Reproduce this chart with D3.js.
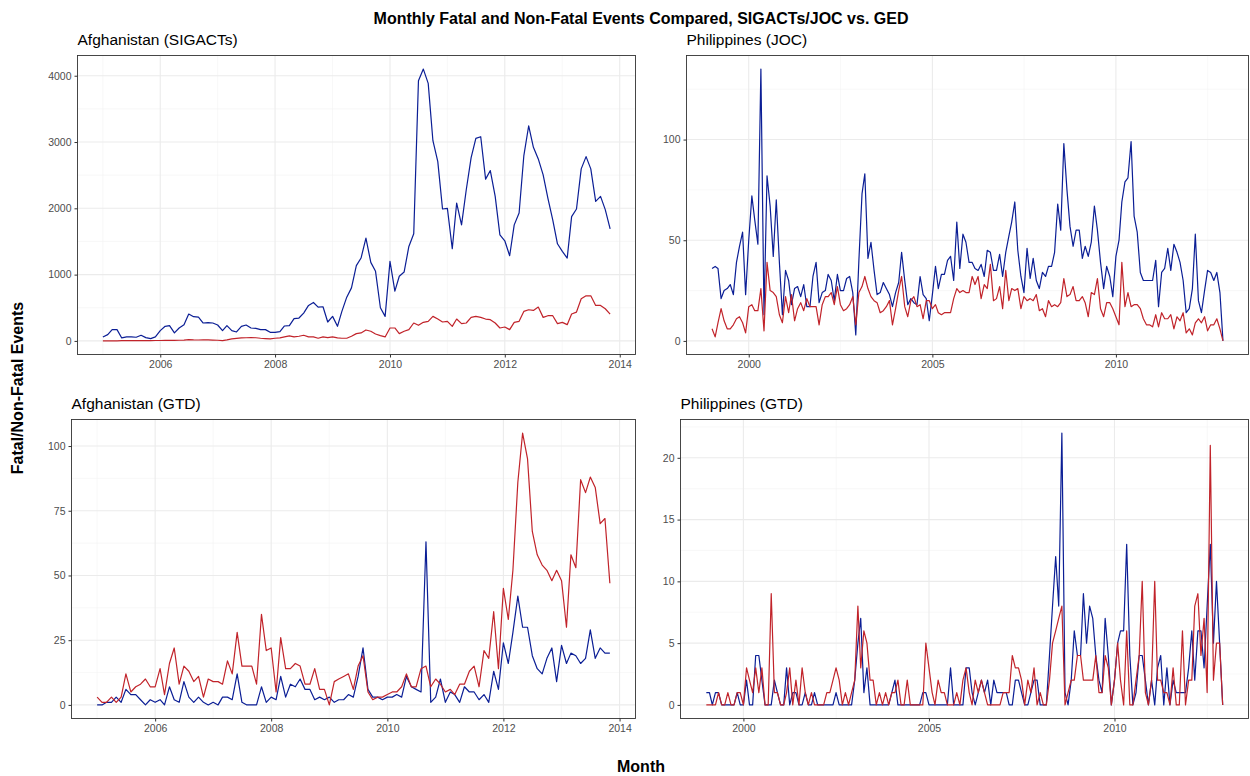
<!DOCTYPE html>
<meta charset="utf-8">
<style>
  body { margin: 0; background: #fff; }
  text { font-family: "Liberation Sans", Arial, Helvetica, sans-serif; }
  .grid-major line { stroke: #ebebeb; stroke-width: 1.1; }
  .grid-minor line { stroke: #f4f4f4; stroke-width: 0.6; }
  .axis line { stroke: #333; }
  .axis text { fill: #4d4d4d; font-size: 10.5px; }
  .border { fill: none; stroke: #333; stroke-width: 0.9; }
</style>
<body>
<svg width="1250" height="776"></svg>
<script src="https://d3js.org/d3.v7.min.js"></script>
<script>
    // monthly counts
    // Afghanistan, Jan 2005 - Nov 2013
    let afgSigactsBlue = [60,95,170,170,45,60,60,55,85,50,35,60,
        155,220,230,120,195,245,405,365,360,270,275,270,
        240,155,230,155,135,220,240,195,190,170,170,130,
        130,140,225,230,335,345,420,535,580,510,515,285,
        370,220,445,660,800,1135,1250,1550,1185,1050,500,370,
        1200,750,975,1040,1425,1615,3925,4100,3885,3020,2705,1990,
        2000,1390,2080,1750,2280,2765,3055,3080,2440,2570,2180,1600,
        1510,1285,1750,1930,2790,3245,2920,2745,2505,2155,1825,1465,
        1350,1250,1875,1990,2595,2780,2595,2105,2180,1980,1690];
    let afgSigactsRed = [0,1,2,2,3,3,4,3,5,4,5,6,
        6,8,10,8,10,12,20,15,14,16,15,12,
        10,5,15,30,38,45,48,50,48,40,35,30,
        40,45,60,75,60,70,85,60,60,40,60,50,
        60,45,40,40,70,110,120,165,145,105,80,60,
        195,195,110,145,170,270,235,280,295,370,330,285,
        295,220,330,260,270,355,370,355,330,320,270,195,
        210,170,280,295,445,470,460,510,355,380,380,260,
        280,245,405,435,635,680,680,535,535,485,405];
    let afgGtdBlue = [0,0,1,1,3,1,6,4,4,2,0,2,
        1,2,0,7,2,1,9,3,1,3,1,0,
        1,0,3,3,2,12,1,0,0,0,7,1,
        3,2,11,3,8,7,10,6,6,2,3,2,
        3,1,2,2,4,3,11,22,6,3,3,2,
        3,3,4,3,11,7,6,5,63,1,3,10,
        1,5,4,1,7,5,5,2,4,1,13,6,
        24,16,28,42,30,30,19,14,12,18,22,9,
        23,16,20,19,16,18,29,18,22,20,20];
    let afgGtdRed = [3,1,1,3,1,3,12,5,7,8,10,7,
        7,14,4,16,22,8,15,13,9,11,3,10,
        9,9,8,17,12,28,15,15,15,8,35,21,
        22,5,26,14,14,16,15,8,8,14,6,6,
        0,9,10,11,12,6,15,19,5,2,3,3,
        4,5,5,7,12,7,7,14,15,7,10,8,
        5,6,4,8,8,13,15,7,21,18,36,14,
        45,33,52,86,105,95,67,58,54,52,48,52,
        48,30,58,53,87,82,88,84,70,72,47];

    // Philippines, Jan 1999 - Dec 2012
    let phlJocBlue = [36,37,36,21,25,26,28,23,39,47,54,23,
        50,72,60,48,135,13,82,67,42,70,39,13,
        35,30,18,26,27,22,28,17,17,32,39,19,
        24,25,33,30,20,33,25,25,31,32,24,3,
        40,73,83,41,49,35,23,24,29,26,23,17,
        24,29,44,30,18,21,19,18,32,23,21,10,
        23,37,26,33,33,40,42,30,59,36,53,49,
        39,39,36,35,38,32,45,44,35,35,43,32,
        44,52,59,69,45,32,24,46,31,41,30,26,
        34,32,37,37,44,68,55,98,75,57,47,55,
        55,41,47,42,49,67,55,39,26,37,32,22,
        42,50,69,79,81,99,62,54,34,30,30,30,
        30,40,17,34,36,46,35,48,44,39,30,14,
        16,26,53,20,14,25,35,34,30,34,24,0];
    let phlJocRed = [6,2,9,16,10,6,6,8,11,12,9,4,
        17,18,15,15,26,5,39,25,24,22,13,9,
        22,14,23,10,16,19,15,21,17,17,17,8,
        18,22,22,24,18,27,18,15,16,18,22,8,
        24,27,32,26,22,20,19,14,15,17,20,8,
        16,25,32,17,12,20,22,17,18,11,20,20,
        16,18,14,13,14,14,14,21,26,24,25,24,
        24,32,28,32,21,28,26,38,20,21,27,16,
        35,20,26,25,26,16,22,20,21,20,23,15,
        16,12,20,17,18,17,19,31,22,23,27,20,
        20,22,19,12,24,23,31,16,12,19,19,16,
        12,8,39,17,24,17,18,18,16,11,8,8,
        7,13,7,14,11,11,13,6,12,10,14,4,
        6,3,9,11,9,12,5,8,8,11,6,0];
    let phlGtdBlue = [1,1,0,1,1,0,0,0,0,0,1,0,
        0,2,0,0,4,4,2,0,0,0,2,1,
        0,0,3,0,1,1,0,0,1,0,0,1,
        0,0,0,0,0,0,1,0,0,0,0,0,
        2,5,7,1,3,0,0,0,0,0,0,0,
        1,2,0,0,0,0,0,0,0,0,1,1,
        0,0,0,0,0,0,0,3,0,0,0,0,
        3,3,1,0,1,2,1,2,0,2,1,1,
        1,1,0,0,2,2,1,0,0,1,2,2,
        0,0,0,4,8,12,8,22,1,0,2,6,
        4,4,9,5,8,7,4,2,1,7,4,0,
        2,5,6,6,13,4,0,1,4,4,2,0,
        2,0,3,4,0,3,0,2,1,1,1,1,
        3,6,2,6,6,3,8,13,5,10,5,0];
    let phlGtdRed = [0,0,0,0,1,0,0,1,0,0,1,1,
        0,3,2,1,3,1,3,0,0,9,1,1,
        0,0,1,3,0,2,0,3,1,0,1,0,
        0,0,0,1,1,2,3,2,0,1,0,1,
        2,8,3,6,5,2,2,0,1,0,1,0,
        1,1,2,0,0,2,0,0,0,0,0,5,
        3,1,0,2,1,1,0,0,0,1,0,2,
        3,1,0,2,1,2,1,0,0,0,0,0,
        1,1,1,4,3,3,2,0,2,1,3,0,
        1,0,0,2,5,6,7,8,0,1,2,2,
        4,4,2,2,2,2,4,1,1,4,3,0,
        2,5,2,0,6,0,0,2,4,10,1,0,
        2,10,2,2,1,1,0,3,0,0,6,0,
        2,2,8,9,4,7,1,21,2,5,5,0];

    let afgStart = new Date(2005, 0, 1);
    let phlStart = new Date(1999, 0, 1);

    let afgSigactsTicks = [0, 1000, 2000, 3000, 4000];
    let phlJocTicks = [0, 50, 100];
    let afgGtdTicks = [0, 25, 50, 75, 100];
    let phlGtdTicks = [0, 5, 10, 15, 20];

    var BLUE = "#0b1e95";
    var RED = "#c1232a";

    var svg = d3.select("svg");

    var panels = [
        { title: "Afghanistan (SIGACTs)", start: afgStart, blue: afgSigactsBlue, red: afgSigactsRed,
          yTicks: afgSigactsTicks, xEvery: 2, l: 77.5, r: 635.5, t: 55.5, b: 354.5 },
        { title: "Philippines (JOC)", start: phlStart, blue: phlJocBlue, red: phlJocRed,
          yTicks: phlJocTicks, xEvery: 5, l: 686.5, r: 1248.5, t: 55.5, b: 354.5 },
        { title: "Afghanistan (GTD)", start: afgStart, blue: afgGtdBlue, red: afgGtdRed,
          yTicks: afgGtdTicks, xEvery: 2, l: 71.5, r: 635.5, t: 419.5, b: 718.5 },
        { title: "Philippines (GTD)", start: phlStart, blue: phlGtdBlue, red: phlGtdRed,
          yTicks: phlGtdTicks, xEvery: 5, l: 680.5, r: 1248.5, t: 419.5, b: 718.5 }
    ];

    function monthly(start, values) {
        return values.map(function(v, i) { return { date: d3.timeMonth.offset(start, i), value: v }; });
    }

    // midpoints between breaks, plus half a step outside each end (ggplot minor breaks)
    function minorBreaks(majors, lo, hi) {
        let out = [];
        let step = majors[1] - majors[0];
        let all = [majors[0] - step].concat(majors, [majors[majors.length - 1] + step]);
        for (let i = 0; i < all.length - 1; i++) {
            let m = (all[i] + all[i + 1]) / 2;
            if (m >= lo && m <= hi) out.push(m);
        }
        return out;
    }

    function drawPanel(p) {
        let blue = monthly(p.start, p.blue);
        let red = monthly(p.start, p.red);
        let both = blue.concat(red);

        let xExt = d3.extent(both, d => +d.date);
        let xPad = (xExt[1] - xExt[0]) * 0.05;
        let x = d3.scaleTime()
            .domain([new Date(xExt[0] - xPad), new Date(xExt[1] + xPad)])
            .range([p.l, p.r]);

        let yExt = d3.extent(both, d => d.value);
        let yPad = (yExt[1] - yExt[0]) * 0.05;
        let y = d3.scaleLinear()
            .domain([yExt[0] - yPad, yExt[1] + yPad])
            .range([p.b, p.t]);

        let xMajor = d3.timeYear.every(p.xEvery).range(x.domain()[0], x.domain()[1]);
        let xMinor = minorBreaks(xMajor.map(d => +d), +x.domain()[0], +x.domain()[1]);
        let yMinor = minorBreaks(p.yTicks, y.domain()[0], y.domain()[1]);

        let g = svg.append("g");

        g.append("rect")
            .attr("x", p.l).attr("y", p.t)
            .attr("width", p.r - p.l).attr("height", p.b - p.t)
            .attr("fill", "#fff");

        let minor = g.append("g").attr("class", "grid-minor");
        minor.selectAll(".mx").data(xMinor).enter().append("line")
            .attr("x1", d => x(d)).attr("x2", d => x(d))
            .attr("y1", p.t).attr("y2", p.b);
        minor.selectAll(".my").data(yMinor).enter().append("line")
            .attr("y1", d => y(d)).attr("y2", d => y(d))
            .attr("x1", p.l).attr("x2", p.r);

        let major = g.append("g").attr("class", "grid-major");
        major.selectAll(".gx").data(xMajor).enter().append("line")
            .attr("x1", d => x(d)).attr("x2", d => x(d))
            .attr("y1", p.t).attr("y2", p.b);
        major.selectAll(".gy").data(p.yTicks).enter().append("line")
            .attr("y1", d => y(d)).attr("y2", d => y(d))
            .attr("x1", p.l).attr("x2", p.r);

        let line = d3.line().x(d => x(d.date)).y(d => y(d.value));

        g.append("path").datum(blue)
            .attr("d", line)
            .attr("fill", "none")
            .attr("stroke", BLUE)
            .attr("stroke-width", 1.2)
            .attr("stroke-linejoin", "round");

        g.append("path").datum(red)
            .attr("d", line)
            .attr("fill", "none")
            .attr("stroke", RED)
            .attr("stroke-width", 1.2)
            .attr("stroke-linejoin", "round");

        g.append("rect").attr("class", "border")
            .attr("x", p.l).attr("y", p.t)
            .attr("width", p.r - p.l).attr("height", p.b - p.t);

        let xAxis = g.append("g").attr("class", "axis")
            .attr("transform", "translate(0," + p.b + ")")
            .call(d3.axisBottom(x).tickValues(xMajor).tickFormat(d3.timeFormat("%Y")).tickSize(3).tickPadding(3));
        xAxis.select(".domain").remove();

        let yAxis = g.append("g").attr("class", "axis")
            .attr("transform", "translate(" + p.l + ",0)")
            .call(d3.axisLeft(y).tickValues(p.yTicks).tickFormat(d3.format("d")).tickSize(3).tickPadding(3));
        yAxis.select(".domain").remove();

        svg.selectAll(".axis text").attr("font-family", null);

        g.append("text")
            .attr("x", p.l)
            .attr("y", p.t - 10.5)
            .attr("font-size", "15.5px")
            .attr("fill", "#000")
            .text(p.title);
    }

    panels.forEach(drawPanel);

    svg.append("text")
        .attr("x", 641).attr("y", 24)
        .attr("text-anchor", "middle")
        .attr("font-size", "16px")
        .attr("font-weight", "bold")
        .text("Monthly Fatal and Non-Fatal Events Compared, SIGACTs/JOC vs. GED");

    svg.append("text")
        .attr("x", 641).attr("y", 772)
        .attr("text-anchor", "middle")
        .attr("font-size", "16px")
        .attr("font-weight", "bold")
        .text("Month");

    svg.append("text")
        .attr("transform", "translate(23,388) rotate(-90)")
        .attr("text-anchor", "middle")
        .attr("font-size", "16px")
        .attr("font-weight", "bold")
        .text("Fatal/Non-Fatal Events");
</script>
</body>
